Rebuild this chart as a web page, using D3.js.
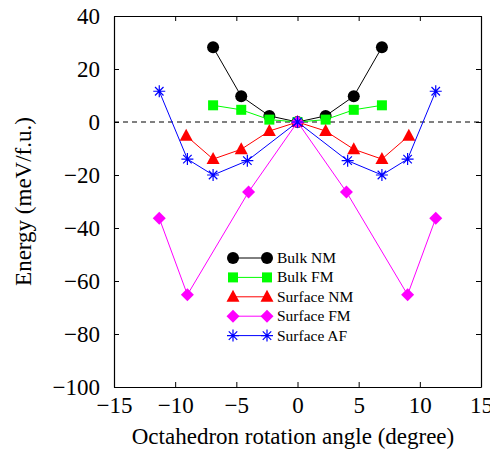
<!DOCTYPE html>
<html>
<head>
<meta charset="utf-8">
<script src="https://cdn.jsdelivr.net/npm/d3@7"></script>
<style>
  body { margin: 0; background: #fff; }
  svg text { font-family: "Liberation Serif", "Times New Roman", serif; fill: #000; }
</style>
</head>
<body>
<script>
  // series data (angle in degree, energy in meV/f.u.)
  var bulkNM_x = [-6.9, -4.6, -2.3, 0, 2.3, 4.6, 6.9]
    , bulkNM_y = [28.2, 9.7, 2.3, 0, 2.3, 9.7, 28.2];
  var bulkFM_x = [-6.9, -4.6, -2.3, 0, 2.3, 4.6, 6.9]
    , bulkFM_y = [6.3, 4.6, 0.9, 0, 0.9, 4.6, 6.3];
  var surfNM_x = [-9.1, -6.9, -4.6, -2.3, 0, 2.3, 4.6, 6.9, 9.1]
    , surfNM_y = [-5.2, -14.0, -10.3, -3.4, 0, -3.4, -10.3, -14.0, -5.2];
  var surfFM_x = [-11.3, -9.0, -4.0, 0, 4.0, 9.0, 11.3]
    , surfFM_y = [-36.3, -65.2, -26.4, 0, -26.4, -65.2, -36.3];
  var surfAF_x = [-11.3, -9.0, -6.9, -4.1, 0, 4.1, 6.9, 9.0, 11.3]
    , surfAF_y = [11.6, -14.0, -20.0, -14.6, 0, -14.6, -20.0, -14.0, 11.6];

  var seriesNames = ["Bulk NM", "Bulk FM", "Surface NM", "Surface FM", "Surface AF"];
  var xTicks = [-15, -10, -5, 0, 5, 10, 15]
    , yTicks = [40, 20, 0, -20, -40, -60, -80, -100];

  var series = [
    {name: seriesNames[0], xs: bulkNM_x, ys: bulkNM_y, color: "#000000", sym: "circle"},
    {name: seriesNames[1], xs: bulkFM_x, ys: bulkFM_y, color: "#00ff00", sym: "square"},
    {name: seriesNames[2], xs: surfNM_x, ys: surfNM_y, color: "#ff0000", sym: "triangle"},
    {name: seriesNames[3], xs: surfFM_x, ys: surfFM_y, color: "#ff00ff", sym: "diamond"},
    {name: seriesNames[4], xs: surfAF_x, ys: surfAF_y, color: "#0000ff", sym: "star"}
  ];

  var width = 490, height = 451;
  var pLeft = 114, pRight = 481, pTop = 16, pBottom = 387;
  var fs = 23;

  var x = d3.scaleLinear().domain([-15, 15]).range([pLeft, pRight]);
  var y = d3.scaleLinear().domain([-100, 40]).range([pBottom, pTop]);

  var svg = d3.select("body").append("svg").attr("width", width).attr("height", height);

  //zero reference line
  svg.append("line")
    .attr("x1", x(-15)).attr("x2", x(15))
    .attr("y1", y(0)).attr("y2", y(0))
    .attr("stroke", "#000").attr("stroke-width", 1)
    .attr("stroke-dasharray", "5,4");

  var minus = function(d) { return d < 0 ? "\u2212" + (-d) : d; };

  //axes, ticks pointing inward on all four sides
  var tl = 5;
  var gx = svg.append("g").attr("transform", "translate(0," + pBottom + ")")
    .call(d3.axisBottom(x).tickValues(xTicks).tickSizeInner(-tl).tickSizeOuter(0).tickPadding(10).tickFormat(minus));
  var gx2 = svg.append("g").attr("transform", "translate(0," + pTop + ")")
    .call(d3.axisTop(x).tickValues(xTicks).tickSizeInner(-tl).tickSizeOuter(0).tickFormat(""));
  var gy = svg.append("g").attr("transform", "translate(" + pLeft + ",0)")
    .call(d3.axisLeft(y).tickValues(yTicks).tickSizeInner(-tl).tickSizeOuter(0).tickPadding(14).tickFormat(minus));
  var gy2 = svg.append("g").attr("transform", "translate(" + pRight + ",0)")
    .call(d3.axisRight(y).tickValues(yTicks).tickSizeInner(-tl).tickSizeOuter(0).tickFormat(""));

  [gx, gx2, gy, gy2].forEach(function(g) {
    g.select(".domain").attr("stroke", "#000").attr("stroke-width", 1.2);
    g.selectAll(".tick line").attr("stroke", "#000").attr("stroke-width", 1);
    g.selectAll("text").attr("font-size", fs).attr("font-family", "Liberation Serif, serif");
  });

  //axis titles
  svg.append("text")
    .attr("x", 293).attr("y", 444)
    .attr("text-anchor", "middle").attr("font-size", fs)
    .text("Octahedron rotation angle (degree)");
  svg.append("text")
    .attr("transform", "translate(31," + ((pTop + pBottom) / 2) + ")rotate(-90)")
    .attr("text-anchor", "middle").attr("font-size", fs)
    .text("Energy (meV/f.u.)");

  //marker drawing
  function drawMarker(g, s, cx, cy) {
    if (s.sym === "star") {
      var r = 6, p = "";
      [0, 45, 90, 135].forEach(function(a) {
        var rad = a * Math.PI / 180, dx = r * Math.cos(rad), dy = r * Math.sin(rad);
        p += "M" + (cx - dx) + "," + (cy - dy) + "L" + (cx + dx) + "," + (cy + dy);
      });
      g.append("path").attr("d", p).attr("stroke", s.color).attr("stroke-width", 1.2).attr("fill", "none");
    } else if (s.sym === "circle") {
      g.append("circle").attr("cx", cx).attr("cy", cy).attr("r", 6).attr("fill", s.color);
    } else if (s.sym === "square") {
      g.append("rect").attr("x", cx - 5).attr("y", cy - 5).attr("width", 10).attr("height", 10).attr("fill", s.color);
    } else if (s.sym === "triangle") {
      g.append("path").attr("d", "M" + cx + "," + (cy - 7) + "L" + (cx + 6.5) + "," + (cy + 5) + "L" + (cx - 6.5) + "," + (cy + 5) + "Z")
        .attr("fill", s.color);
    } else if (s.sym === "diamond") {
      g.append("path").attr("d", "M" + cx + "," + (cy - 6.5) + "L" + (cx + 6.5) + "," + cy + "L" + cx + "," + (cy + 6.5) + "L" + (cx - 6.5) + "," + cy + "Z")
        .attr("fill", s.color);
    }
  }

  var line = d3.line().x(function(d) { return x(d[0]); }).y(function(d) { return y(d[1]); });

  series.forEach(function(s) {
    var pts = s.xs.map(function(v, i) { return [v, s.ys[i]]; });
    var g = svg.append("g").attr("class", "series");
    g.append("path").attr("d", line(pts))
      .attr("fill", "none").attr("stroke", s.color).attr("stroke-width", 1);
    pts.forEach(function(p) { drawMarker(g, s, x(p[0]), y(p[1])); });
  });

  //legend
  var lx1 = 233, lx2 = 267, ly0 = 258, ldy = 19.4;
  series.forEach(function(s, i) {
    var ly = ly0 + i * ldy;
    var g = svg.append("g").attr("class", "legend");
    g.append("line").attr("x1", lx1).attr("x2", lx2).attr("y1", ly).attr("y2", ly)
      .attr("stroke", s.color).attr("stroke-width", 1);
    drawMarker(g, s, lx1, ly);
    drawMarker(g, s, lx2, ly);
    g.append("text").attr("x", lx2 + 10).attr("y", ly + 5).attr("font-size", 15.5).text(s.name);
  });
</script>
</body>
</html>
